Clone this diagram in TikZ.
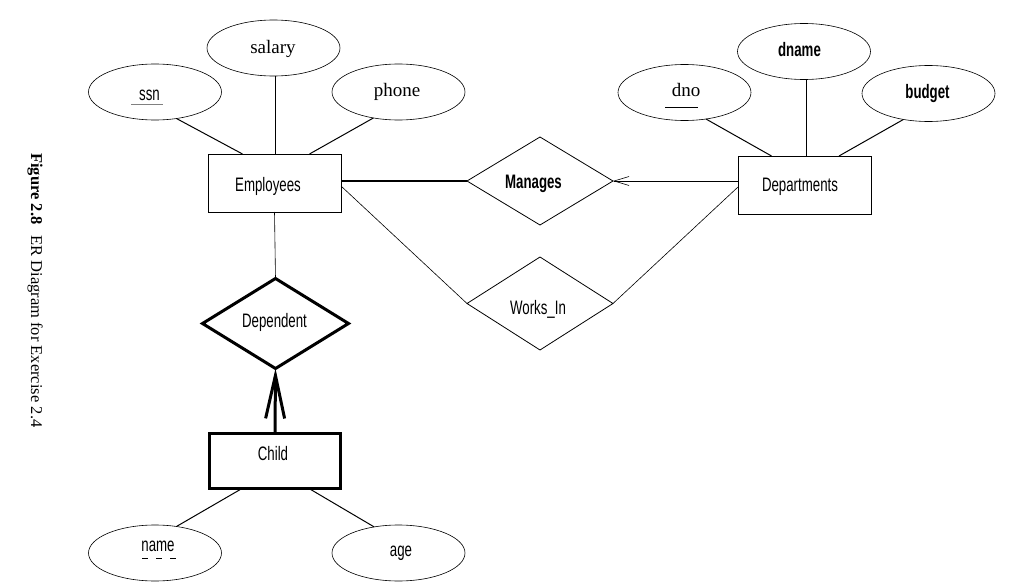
\documentclass[tikz,border=0pt]{standalone}
\usepackage{fontspec}
\setmainfont{Liberation Serif}
\newfontfamily\cond[FakeStretch=0.68]{Liberation Sans}
\usetikzlibrary{shapes.geometric,arrows.meta}
\begin{document}
\begin{tikzpicture}[x=1pt,y=-1pt,
  attr/.style={ellipse,draw,line width=0.6pt,minimum width=133pt,minimum height=56pt,inner sep=0pt,outer sep=0pt},
  ent/.style={rectangle,draw,line width=0.8pt,minimum width=133pt,minimum height=58pt,inner sep=0pt,outer sep=0pt},
  rel/.style={diamond,draw,line width=0.8pt,minimum width=146pt,minimum height=88pt,inner sep=0pt,outer sep=0pt},
  weak/.style={line width=3pt},
  lab/.style={anchor=base,inner sep=0pt,outer sep=0pt},
  sf/.style={lab,font=\cond\fontsize{19.5}{21}\selectfont},
  rm/.style={lab,font=\fontsize{19}{21}\selectfont},
  conn/.style={line width=1pt},
  thin/.style={line width=0.6pt},
]
\useasboundingbox (0,0) rectangle (1013,586);

% caption
\node[rotate=-90,anchor=west,inner sep=0pt,font=\fontsize{16.5}{18}\selectfont] (cap) at (35,153)
  {\textbf{Figure 2.8}\hspace{11pt}ER Diagram for Exercise 2.4};

% attributes
\node[attr] (ssn) at (155,92) {};
\node[attr] (salary) at (273.5,48) {};
\node[attr] (phone) at (398.5,92) {};
\node[attr] (dno) at (684.5,92.5) {};
\node[attr] (dname) at (804,51.5) {};
\node[attr] (budget) at (928.5,93.5) {};
\node[attr] (name) at (155,553) {};
\node[attr] (age) at (398.5,553) {};

\node[sf] (tssn) at ([shift={(-5.5,8)}]ssn.center) {ssn};
\node[rm] (tsalary) at ([shift={(-0.5,6)}]salary.center) {salary};
\node[rm] (tphone) at ([shift={(-1.5,4)}]phone.center) {phone};
\node[rm] (tdno) at ([shift={(1.5,3.5)}]dno.center) {dno};
\node[sf] (tdname) at ([shift={(-4.5,5.5)}]dname.center) {\bfseries dname};
\node[sf] (tbudget) at ([shift={(-1,5)}]budget.center) {\bfseries budget};
\node[sf] (tname) at ([shift={(3,-2)}]name.center) {name};
\node[sf] (tage) at ([shift={(2.5,3.5)}]age.center) {age};

% entities
\node[ent] (emp) at (274.5,183) {};
\node[ent] (dept) at (804.5,185) {};
\node[ent,weak,minimum width=131pt,minimum height=55pt] (child) at (275,461) {};
\node[sf] (temp) at ([shift={(-6.5,8.5)}]emp.center) {Employees};
\node[sf] (tdept) at ([shift={(-4.5,6)}]dept.center) {Departments};
\node[sf] (tchild) at ([shift={(-2,-1)}]child.center) {Child};

% relationships
\node[rel] (man) at (540,181) {};
\node[rel,minimum height=93pt] (works) at (540,303.5) {};
\node[rel,weak,minimum height=90pt] (dep) at (275.5,323.5) {};
\node[sf] (tman) at ([shift={(-6.5,7)}]man.center) {\bfseries Manages};
\node[sf] (tworks) at ([shift={(-2,11)}]works.center) {Works\_In};
\node[sf] (tdep) at ([shift={(-1,3.5)}]dep.center) {Dependent};

% underlines
\draw[gray,line width=0.9pt] ([shift={(-24,12)}]ssn.center) -- ([shift={(8,12)}]ssn.center);
\draw[line width=1pt] ([shift={(-19.5,15.5)}]dno.center) -- ([shift={(13.5,15.5)}]dno.center);
\draw[line width=0.9pt,dash pattern=on 6pt off 8pt] ([shift={(-13,5)}]name.center) -- ([shift={(21,5)}]name.center);

% attribute connectors
\draw[conn] (ssn.-51) -- ([xshift=-32pt]emp.north);
\draw[conn] ([xshift=2pt]salary.south) -- ([xshift=2pt]salary.south |- emp.north);
\draw[conn] (phone.-134) -- ([xshift=35pt]emp.north);
\draw[conn] (dno.-51) -- ([xshift=-33pt]dept.north);
\draw[conn] ([xshift=2pt]dname.south) -- ([xshift=2pt]dname.south |- dept.north);
\draw[conn] (budget.-134) -- ([xshift=34.5pt]dept.north);
\draw[conn] (name.51) -- ([xshift=-33pt]child.south);
\draw[conn] (age.133) -- ([xshift=34pt]child.south);

% relationship connectors
\draw[line width=1.6pt] (emp.east |- man.west) -- (man.west);
\draw[thin,{Straight Barb[length=15pt,width=9pt]}-] (man.east) -- (man.east -| dept.west);
\draw[thin] ([yshift=-3pt]emp.east) -- (works.west);
\draw[thin] (works.east) -- ([yshift=-2pt]dept.west);
\draw[thin] (emp.south) -- (dep.north);
\draw[weak,-{Straight Barb[length=43pt,width=19pt]}] (child.north) -- (dep.south);
\end{tikzpicture}
\end{document}
